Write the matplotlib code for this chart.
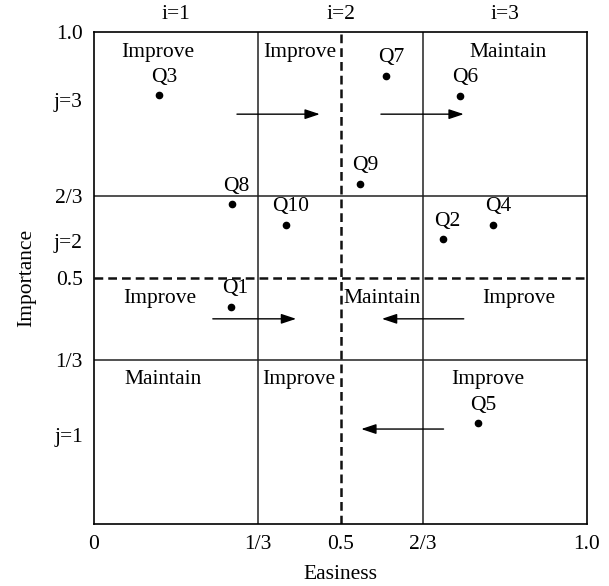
import matplotlib
matplotlib.use("Agg")
import matplotlib.pyplot as plt

plt.rcParams['font.family'] = ['Liberation Serif', 'DejaVu Serif']

# questions: easiness (x), importance (y)
names = ["Q1", "Q2", "Q3", "Q4", "Q5", "Q6", "Q7", "Q8", "Q9", "Q10"]
easiness = [0.277, 0.707, 0.132, 0.809, 0.779, 0.742, 0.592, 0.279, 0.540, 0.389]
importance = [0.442, 0.579, 0.871, 0.608, 0.205, 0.870, 0.911, 0.650, 0.691, 0.608]

# region labels
region_text = ["Improve", "Improve", "Maintain",
               "Improve", "Maintain", "Improve",
               "Maintain", "Improve", "Improve"]
region_x = [0.130, 0.418, 0.840, 0.134, 0.584, 0.862, 0.140, 0.416, 0.799]
region_y = [0.959, 0.959, 0.959, 0.459, 0.459, 0.459, 0.293, 0.293, 0.293]

# arrows (start -> end)
arrow_x0 = [0.290, 0.582, 0.241, 0.750, 0.709]
arrow_x1 = [0.458, 0.750, 0.410, 0.584, 0.542]
arrow_y = [0.833, 0.833, 0.417, 0.417, 0.193]

xtick_pos = [0, 1/3, 0.5, 2/3, 1.0]
xtick_lab = ["0", "1/3", "0.5", "2/3", "1.0"]
ytick_pos = [1.0, 0.862, 2/3, 0.575, 0.5, 1/3, 0.18]
ytick_lab = ["1.0", "j=3", "2/3", "j=2", "0.5", "1/3", "j=1"]
top_pos = [1/6, 0.5, 5/6]
top_lab = ["i=1", "i=2", "i=3"]

fs = 15.5

fig, ax = plt.subplots(figsize=(6.09, 5.86), dpi=100)
fig.subplots_adjust(left=94/609, right=587/609, top=1-32/586, bottom=1-524/586)

ax.set_xlim(0, 1)
ax.set_ylim(0, 1)

for v in [1/3, 2/3]:
    ax.axvline(v, color='#222222', lw=1.1)
    ax.axhline(v, color='#222222', lw=1.1)
ax.axvline(0.5, color='#111111', lw=1.8, ls=(0, (3.5, 2)))
ax.axhline(0.5, color='#111111', lw=1.8, ls=(0, (3.5, 2)))

ax.plot(easiness, importance, 'o', color='black', ms=4.5)
for n, x, y in zip(names, easiness, importance):
    ax.annotate(n, (x, y), xytext=(3.6, 13), textcoords='offset points',
                ha='center', va='center', fontsize=fs)

for t, x, y in zip(region_text, region_x, region_y):
    ax.text(x, y, t, ha='center', va='center', fontsize=fs)

for x0, x1, y in zip(arrow_x0, arrow_x1, arrow_y):
    ax.annotate("", xy=(x1, y), xytext=(x0, y),
                arrowprops=dict(arrowstyle='-|>,head_length=0.9,head_width=0.3',
                                color='black', lw=1.0, shrinkA=0, shrinkB=0))

ax.set_xticks(xtick_pos)
ax.set_xticklabels(xtick_lab, fontsize=fs)
ax.set_yticks(ytick_pos)
ax.set_yticklabels(ytick_lab, fontsize=fs)
ax.tick_params(length=0, pad=8)

for x, t in zip(top_pos, top_lab):
    ax.text(x, 1.0 + 17/492, t, ha='center', va='center', fontsize=fs,
            transform=ax.transAxes)

ax.set_xlabel("Easiness", fontsize=fs, labelpad=8)
ax.set_ylabel("Importance", fontsize=fs, labelpad=13)

for s in ax.spines.values():
    s.set_linewidth(1.2)

fig.savefig("out.png", dpi=100)
